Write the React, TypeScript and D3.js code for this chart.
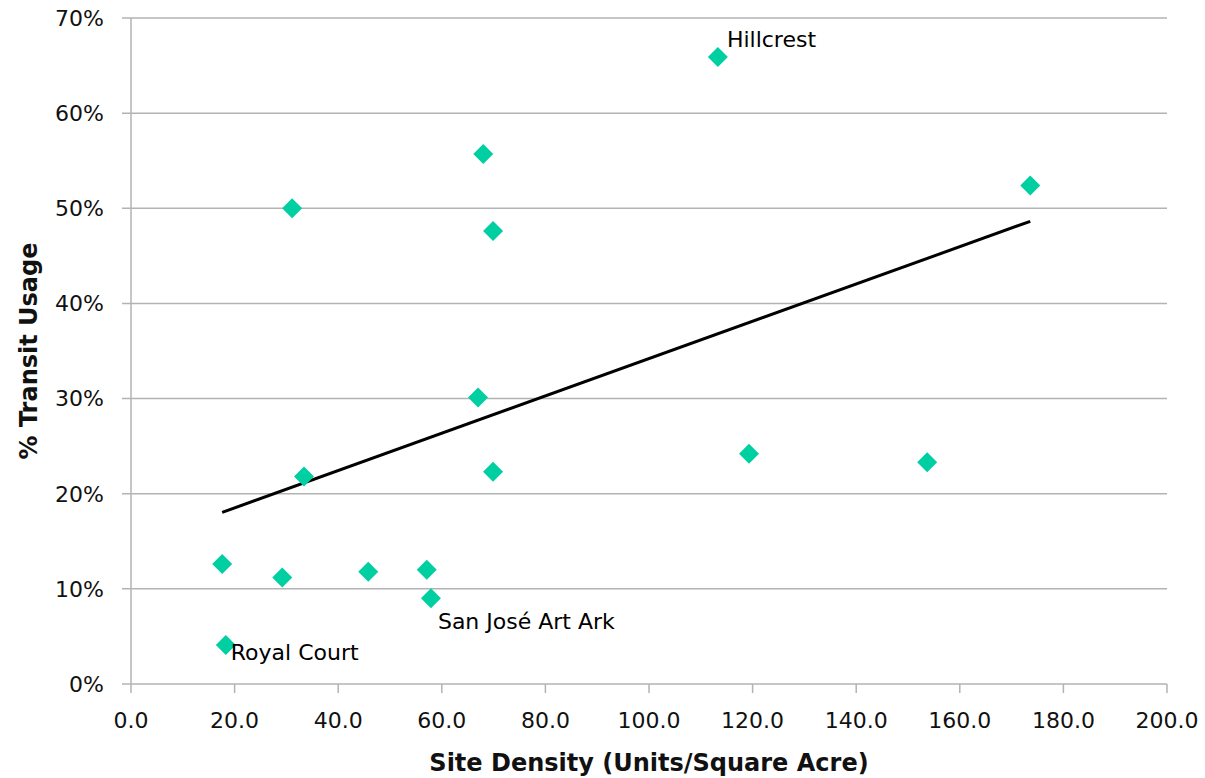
import React, { useRef, useEffect } from 'react';
import * as d3 from 'd3';

// Site density (units / acre) and share of residents using transit
const density = [17.6, 18.3, 29.2, 31.1, 33.4, 45.8, 57.1, 57.9, 67.0, 68.0, 69.9, 69.9, 113.3, 119.3, 153.7, 173.6];
const transit = [0.126, 0.041, 0.112, 0.50, 0.218, 0.118, 0.120, 0.090, 0.301, 0.557, 0.476, 0.223, 0.659, 0.242, 0.233, 0.524];
const siteNames = ['', 'Royal Court', '', '', '', '', '', 'San José Art Ark', '', '', '', '', 'Hillcrest', '', '', ''];

const xTicks = [0, 20, 40, 60, 80, 100, 120, 140, 160, 180, 200];
const yTicks = [0, 0.1, 0.2, 0.3, 0.4, 0.5, 0.6, 0.7];

const W = 1205;
const H = 778;
const margin = { top: 18, right: 38, bottom: 94, left: 131 };

const App: React.FC = () => {
	const svgRef = useRef<SVGSVGElement | null>(null);

	useEffect(() => {
		if (!svgRef.current) return;
		const svg = d3.select(svgRef.current);
		svg.selectAll('*').remove();

		const x = d3.scaleLinear().domain([0, 200]).range([margin.left, W - margin.right]);
		const y = d3.scaleLinear().domain([0, 0.7]).range([H - margin.bottom, margin.top]);
		const gridColor = '#b3b3b3';
		const font = '"DejaVu Sans", Verdana, sans-serif';

		// horizontal gridlines
		svg.append('g')
			.selectAll('line')
			.data(yTicks)
			.join('line')
			.attr('x1', margin.left - 9)
			.attr('x2', W - margin.right)
			.attr('y1', d => y(d))
			.attr('y2', d => y(d))
			.attr('stroke', gridColor)
			.attr('stroke-width', 1.5);

		// y axis line
		svg.append('line')
			.attr('x1', x(0)).attr('x2', x(0))
			.attr('y1', y(0.7)).attr('y2', y(0))
			.attr('stroke', gridColor)
			.attr('stroke-width', 1.5);

		// x ticks
		svg.append('g')
			.selectAll('line')
			.data(xTicks)
			.join('line')
			.attr('x1', d => x(d)).attr('x2', d => x(d))
			.attr('y1', y(0)).attr('y2', y(0) + 9)
			.attr('stroke', gridColor)
			.attr('stroke-width', 1.5);

		const fmtPct = d3.format('.0%');
		svg.append('g')
			.selectAll('text')
			.data(yTicks)
			.join('text')
			.attr('x', margin.left - 27)
			.attr('y', d => y(d))
			.attr('dy', '0.36em')
			.attr('text-anchor', 'end')
			.style('font', `22px ${font}`)
			.attr('fill', '#111')
			.text(d => fmtPct(d));

		svg.append('g')
			.selectAll('text')
			.data(xTicks)
			.join('text')
			.attr('x', d => x(d))
			.attr('y', y(0) + 44)
			.attr('text-anchor', 'middle')
			.style('font', `22px ${font}`)
			.attr('fill', '#111')
			.text(d => d3.format('.1f')(d));

		// axis titles
		svg.append('text')
			.attr('x', (x(0) + x(200)) / 2)
			.attr('y', 771)
			.attr('text-anchor', 'middle')
			.style('font', `bold 24px ${font}`)
			.attr('fill', '#111')
			.text('Site Density (Units/Square Acre)');

		svg.append('text')
			.attr('transform', `translate(37,${(y(0) + y(0.7)) / 2}) rotate(-90)`)
			.attr('text-anchor', 'middle')
			.style('font', `bold 24px ${font}`)
			.attr('fill', '#111')
			.text('% Transit Usage');

		// linear trend line (least squares)
		const pts = density.map((d, i) => ({ dx: d, ty: transit[i], name: siteNames[i] }));
		const mx = d3.mean(density)!;
		const my = d3.mean(transit)!;
		const slope = d3.sum(pts, p => (p.dx - mx) * (p.ty - my)) / d3.sum(pts, p => (p.dx - mx) ** 2);
		const intercept = my - slope * mx;
		const [x0, x1] = d3.extent(density) as [number, number];
		svg.append('line')
			.attr('x1', x(x0)).attr('y1', y(intercept + slope * x0))
			.attr('x2', x(x1)).attr('y2', y(intercept + slope * x1))
			.attr('stroke', '#000')
			.attr('stroke-width', 3);

		// diamonds
		const diamond = d3.symbol().type(d3.symbolSquare).size(200);
		svg.append('g')
			.selectAll('path')
			.data(pts)
			.join('path')
			.attr('d', diamond)
			.attr('transform', d => `translate(${x(d.dx)},${y(d.ty)}) rotate(45)`)
			.attr('fill', '#00cfa1');

		// point labels
		const offsets: Record<string, [number, number]> = {
			'Hillcrest': [9, -10],
			'Royal Court': [5, 15],
			'San José Art Ark': [7, 31],
		};
		svg.append('g')
			.selectAll('text')
			.data(pts.filter(p => p.name))
			.join('text')
			.attr('x', d => x(d.dx) + offsets[d.name][0])
			.attr('y', d => y(d.ty) + offsets[d.name][1])
			.style('font', `22px ${font}`)
			.attr('fill', '#000')
			.text(d => d.name);
	}, []);

	return (
		<svg ref={svgRef} width={W} height={H}
			style={{ position: 'absolute', left: 0, top: 0, background: '#fff' }} />
	);
};

export default App;
